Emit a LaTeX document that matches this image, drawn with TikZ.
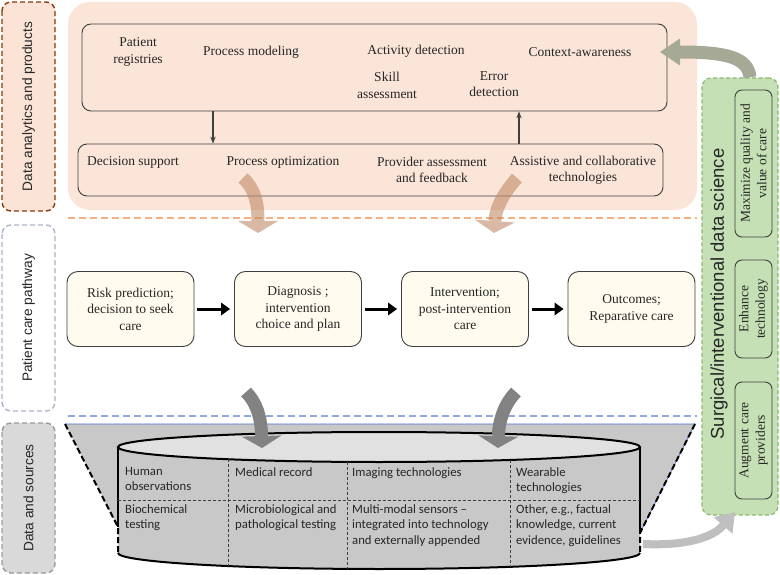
\documentclass[tikz,border=0pt]{standalone}
\usepackage{fontspec}
\setmainfont{Liberation Serif}
\setsansfont{Liberation Sans}
\newfontfamily\cellfont{Carlito}
\usetikzlibrary{arrows.meta}

\definecolor{peachbg}{HTML}{FAE5D8}
\definecolor{peachlab}{HTML}{FBE4D5}
\definecolor{brownline}{HTML}{843C0C}
\definecolor{slateline}{HTML}{ADB4C8}
\definecolor{greylab}{HTML}{D9D9D9}
\definecolor{greyline}{HTML}{9A9A9A}
\definecolor{orangedash}{HTML}{F4B183}
\definecolor{bluedash}{HTML}{8FAADC}
\definecolor{cream}{HTML}{FFFCEF}
\definecolor{boxline}{HTML}{3F3F3F}
\definecolor{dsgreen}{HTML}{C5E0B4}
\definecolor{dsline}{HTML}{8DB873}
\definecolor{funnel}{HTML}{C8C8C8}
\definecolor{cyltop}{HTML}{E1E1E1}
\definecolor{arrowpeach}{HTML}{C08A68}
\definecolor{arrowgrey}{HTML}{828282}
\definecolor{arrowolive}{HTML}{A6A996}
\definecolor{arrowlight}{HTML}{BFBFBF}
\definecolor{topline}{HTML}{4472C4}

\newcommand{\serifsize}{\fontsize{13.5}{16.5}\selectfont}
\newcommand{\cellsize}{\cellfont\fontsize{12.7}{15.6}\selectfont}

\tikzset{
  sidebox/.style={rotate=90, draw, dash pattern=on 5pt off 3pt, line width=1.4pt, rounded corners=9pt,
    minimum height=53pt, font=\sffamily\fontsize{13.7}{16}\selectfont, text=black!85},
  panel/.style={draw=boxline, line width=0.9pt, rounded corners=9pt, inner sep=0pt},
  lbl/.style={font=\serifsize, align=center, inner sep=1pt, text=black!85},
  stepbox/.style={draw=boxline, fill=cream, line width=0.9pt, rounded corners=11pt, minimum width=127pt,
    minimum height=75pt, align=center, font=\serifsize, inner sep=2pt, text=black!85},
  goalbox/.style={rotate=90, draw=boxline, line width=0.9pt, rounded corners=7pt, minimum height=37pt,
    align=center, font=\serifsize, inner sep=1pt, text=black!85},
  cell/.style={anchor=north west, align=left, inner sep=0pt, font=\cellsize, text=black!85},
  thinarr/.style={line width=1.3pt, -{Stealth[length=7pt,width=5.5pt,line width=0pt]}},
  flowarr/.style={line width=3pt, -{Triangle[length=9pt,width=13pt,line width=0pt]}, shorten <=3pt, shorten >=4pt},
  bigarr/.style={line width=13pt, -{Triangle[length=12pt,width=40pt,line width=0pt]}},
}

\begin{document}
\begin{tikzpicture}[x=1pt,y=-1pt]
  \useasboundingbox (0,0) rectangle (780,575);

  % side labels
  \node[sidebox, fill=peachlab, draw=brownline, minimum width=209pt] (labprod) at (28.5,106.5) {Data analytics and products};
  \node[sidebox, fill=white, draw=slateline, minimum width=186pt] (labpath) at (28.5,318) {Patient care pathway};
  \node[sidebox, fill=greylab, draw=greyline, minimum width=150pt] (labdata) at (28.5,498) {Data and sources};

  % analytics and products
  \fill[peachbg, rounded corners=22pt] (68,2) rectangle (697,210);
  \node[panel, minimum width=585pt, minimum height=87pt] (analytics) at (374.5,67.5) {};
  \node[panel, minimum width=585pt, minimum height=52pt] (products) at (370.5,170) {};

  \node[lbl] (registries) at (138,52) {Patient\\registries};
  \node[lbl] (modeling) at (251,52) {Process modeling};
  \node[lbl] (activity) at (416,51) {Activity detection};
  \node[lbl] (skill) at (387,85.5) {Skill\\assessment};
  \node[lbl] (error) at (494,84) {Error\\detection};
  \node[lbl] (context) at (580,52) {Context-awareness};

  \node[lbl] (decision) at (133,162) {Decision support};
  \node[lbl] (optim) at (283,162) {Process optimization};
  \node[lbl] (provider) at (432,170) {Provider assessment\\and feedback};
  \node[lbl] (assist) at (583,170.5) {Assistive and collaborative\\technologies};

  \coordinate (dn) at (213,0);
  \coordinate (up) at (519,0);
  \draw[thinarr, boxline] (analytics.south -| dn) -- (products.north -| dn);
  \draw[thinarr, boxline] (products.north -| up) -- (analytics.south -| up);

  \draw[orangedash, line width=1.6pt, dash pattern=on 7pt off 4pt] (68,218) -- (697,218);

  % pathway
  \node[stepbox] (risk) at (130.5,309) {Risk prediction;\\decision to seek\\care};
  \node[stepbox] (diag) at (298,309) {Diagnosis ;\\intervention\\choice and plan};
  \node[stepbox] (interv) at (465,309) {Intervention;\\post-intervention\\care};
  \node[stepbox] (outcome) at (631.5,309) {Outcomes;\\Reparative care};
  \draw[flowarr] (risk) -- (diag);
  \draw[flowarr] (diag) -- (interv);
  \draw[flowarr] (interv) -- (outcome);

  \draw[bluedash, line width=1.6pt, dash pattern=on 7pt off 4pt] (68,416) -- (697,416);

  % data sources
  \fill[funnel] (65,424) -- (695,424) -- (640,533) -- (118,527) -- cycle;
  \draw[topline, line width=0.7pt] (65,424) -- (695,424) -- (640,533);
  \fill[funnel] (118,447) -- (118,553) arc[start angle=180, end angle=0, x radius=261, y radius=16] -- (640,447) -- cycle;
  \draw[line width=2pt] (118,527) -- (118,447) (640,533) -- (640,447);
  \draw[line width=2pt] (118,553) arc[start angle=180, end angle=0, x radius=261, y radius=16];
  \draw[line width=2pt, fill=cyltop] (379,447) ellipse[x radius=261, y radius=15];
  \draw[line width=2pt, dash pattern=on 6pt off 3pt] (65,424) -- (118,527) -- (118,553);
  \draw[line width=2pt, dash pattern=on 6pt off 3pt] (695,424) -- (640,533) -- (640,553);

  \draw[black!75, line width=0.6pt, densely dashed] (118,500) -- (640,500);
  \draw[black!75, line width=0.6pt, densely dashed] (228,459.2) -- (228,566) (347,461.9) -- (347,568.9) (510,460) -- (510,566.8);

  \node[cell] (human) at (125,467) {Human\\observations};
  \node[cell] (biochem) at (125,504) {Biochemical\\testing};
  \node[cell] (record) at (235,467) {Medical record};
  \node[cell] (micro) at (235,504) {Microbiological and\\pathological testing};
  \node[cell] (imaging) at (352,467) {Imaging technologies};
  \node[cell] (sensors) at (352,504) {Multi-modal sensors –\\integrated into technology\\and externally appended};
  \node[cell] (wear) at (516,467) {Wearable\\technologies};
  \node[cell] (other) at (516,504) {Other, e.g., factual\\knowledge, current\\evidence, guidelines};

  % data science
  \node[draw=dsline, fill=dsgreen, dash pattern=on 4pt off 2.5pt, line width=1.2pt, rounded corners=9pt,
    minimum width=76pt, minimum height=437pt] (dsci) at (740,296.5) {};
  \node[rotate=90, font=\sffamily\fontsize{18.5}{22}\selectfont, text=black!85] (dstitle) at (719,294) {Surgical/interventional data science};
  \node[goalbox, minimum width=147pt] (quality) at (753.5,163.5) {Maximize quality and\\value of care};
  \node[goalbox, minimum width=98pt] (enhance) at (753.5,309) {Enhance\\technology};
  \node[goalbox, minimum width=117pt] (augment) at (753.5,440.5) {Augment care\\providers};

  % big arrows
  \coordinate (pa1) at (243,178);
  \coordinate (pb1) at (258,233);
  \coordinate (pa2) at (517,178);
  \coordinate (pb2) at (494,233);
  \begin{scope}[transparency group, opacity=.6]
    \draw[bigarr, arrowpeach] (pa1) .. controls (255,189) and (258,203) .. (pb1);
    \draw[bigarr, arrowpeach] (pa2) .. controls (507,189) and (496,205) .. (pb2);
  \end{scope}
  \coordinate (ga1) at (246,392);
  \coordinate (gb1) at (262,448);
  \coordinate (ga2) at (516,392);
  \coordinate (gb2) at (498,448);
  \draw[bigarr, arrowgrey] (ga1) .. controls (256,402) and (261,416) .. (gb1);
  \draw[bigarr, arrowgrey] (ga2) .. controls (506,402) and (499,418) .. (gb2);

  \coordinate (oa) at (dsci.north -| 750,0);
  \coordinate (ob) at (660,52);
  \draw[arrowolive, line width=13pt, -{Triangle[length=20pt,width=27pt,line width=0pt]}] (oa) .. controls (748,58) and (728,52) .. (ob);
  \coordinate (la) at (643,544);
  \coordinate (lb) at (735,512);
  \draw[arrowlight, line width=8pt, -{Triangle[length=18pt,width=25pt,line width=0pt]}] (la) .. controls (685,546) and (712,538) .. (lb);
\end{tikzpicture}
\end{document}
